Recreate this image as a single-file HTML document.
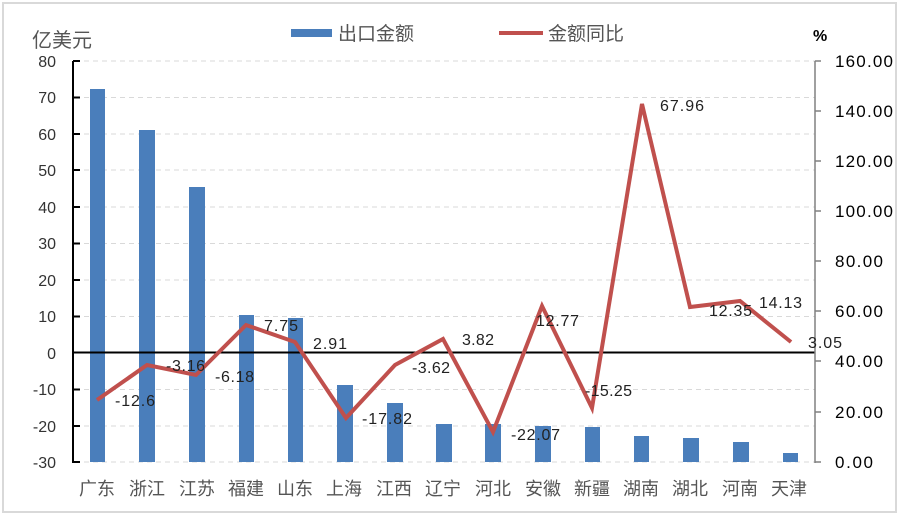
<!DOCTYPE html>
<html><head><meta charset="utf-8"><style>
body{margin:0;background:#fff}
svg{display:block}
text{font-family:"Liberation Sans","Noto Sans CJK SC",sans-serif}
</style></head><body>
<svg width="900" height="516" viewBox="0 0 900 516" xmlns="http://www.w3.org/2000/svg">
<rect x="3" y="3" width="893" height="509" fill="#fff" stroke="#d9d9d9" stroke-width="2"/>
<g stroke="#d9d9d9" stroke-width="1" stroke-dasharray="5,4">
<line x1="75" x2="815" y1="61" y2="61"/><line x1="75" x2="815" y1="97.5" y2="97.5"/>
<line x1="75" x2="815" y1="134" y2="134"/><line x1="75" x2="815" y1="170" y2="170"/>
<line x1="75" x2="815" y1="207" y2="207"/><line x1="75" x2="815" y1="243.5" y2="243.5"/>
<line x1="75" x2="815" y1="280" y2="280"/><line x1="75" x2="815" y1="316.5" y2="316.5"/>
<line x1="75" x2="815" y1="389.5" y2="389.5"/><line x1="75" x2="815" y1="426" y2="426"/>
<line x1="75" x2="815" y1="462" y2="462"/>
</g>
<g fill="#4a7ebb">
<rect x="90" y="89" width="15" height="373"/><rect x="139" y="130" width="16" height="332"/>
<rect x="189" y="187" width="16" height="275"/><rect x="239" y="315" width="15" height="147"/>
<rect x="288" y="318" width="15" height="144"/><rect x="337" y="385" width="16" height="77"/>
<rect x="387" y="403" width="16" height="59"/><rect x="436" y="424" width="16" height="38"/>
<rect x="485" y="424" width="16" height="38"/><rect x="535" y="426" width="16" height="36"/>
<rect x="585" y="427" width="15" height="35"/><rect x="634" y="436" width="15" height="26"/>
<rect x="683" y="438" width="16" height="24"/><rect x="733" y="442" width="16" height="20"/>
<rect x="783" y="453" width="15" height="9"/>
</g>
<line x1="73" x2="815" y1="352.5" y2="352.5" stroke="#000" stroke-width="2"/>
<g stroke="#000" stroke-width="2"><line x1="73" y1="61" x2="73" y2="463"/>
<line x1="73" x2="80" y1="61" y2="61"/><line x1="73" x2="80" y1="97.5" y2="97.5"/><line x1="73" x2="80" y1="134" y2="134"/><line x1="73" x2="80" y1="170" y2="170"/><line x1="73" x2="80" y1="207" y2="207"/><line x1="73" x2="80" y1="243.5" y2="243.5"/><line x1="73" x2="80" y1="280" y2="280"/><line x1="73" x2="80" y1="316.5" y2="316.5"/><line x1="73" x2="80" y1="389.5" y2="389.5"/><line x1="73" x2="80" y1="426" y2="426"/><line x1="73" x2="80" y1="462" y2="462"/></g>
<g stroke="#808080" stroke-width="1.5"><line x1="815" y1="61" x2="815" y2="463"/>
<line x1="815" x2="821" y1="61" y2="61"/><line x1="815" x2="821" y1="111" y2="111"/><line x1="815" x2="821" y1="161" y2="161"/><line x1="815" x2="821" y1="211" y2="211"/><line x1="815" x2="821" y1="261" y2="261"/><line x1="815" x2="821" y1="311" y2="311"/><line x1="815" x2="821" y1="361" y2="361"/><line x1="815" x2="821" y1="412" y2="412"/><line x1="815" x2="821" y1="462" y2="462"/></g>
<polyline fill="none" stroke="#c0504d" stroke-width="4" stroke-linejoin="miter" points="97,400 147,365 196,375 246,325 295,342 346,418 395,365 443,339 493,432 542,306 592,408 642,104 690,307 740,301 791,342"/>
<g font-size="16" fill="#333" text-anchor="end">
<text x="56" y="67">80</text><text x="56" y="103">70</text><text x="56" y="140">60</text><text x="56" y="176">50</text><text x="56" y="213">40</text><text x="56" y="249">30</text><text x="56" y="286">20</text><text x="56" y="322">10</text><text x="56" y="359">0</text><text x="56" y="395">-10</text><text x="56" y="432">-20</text><text x="56" y="468">-30</text>
</g>
<g font-size="17" fill="#000" textLength="58">
<text x="835" y="67" textLength="58">160.00</text><text x="835" y="117" textLength="58">140.00</text><text x="835" y="167" textLength="58">120.00</text><text x="835" y="217" textLength="58">100.00</text><text x="835" y="267" textLength="48">80.00</text><text x="835" y="317" textLength="48">60.00</text><text x="835" y="367" textLength="48">40.00</text><text x="835" y="418" textLength="48">20.00</text><text x="835" y="468" textLength="38">0.00</text>
</g>
<g font-size="16" fill="#222">
<text x="115" y="406" textLength="40">-12.6</text><text x="166" y="371" textLength="39">-3.16</text><text x="215" y="382" textLength="39">-6.18</text><text x="264" y="331" textLength="34">7.75</text><text x="313" y="349" textLength="34">2.91</text><text x="362" y="424" textLength="50">-17.82</text><text x="412" y="373" textLength="38">-3.62</text><text x="462" y="345" textLength="32">3.82</text><text x="511" y="440" textLength="49">-22.07</text><text x="536" y="326" textLength="43">12.77</text><text x="585" y="396" textLength="47">-15.25</text><text x="660" y="111" textLength="44">67.96</text><text x="709" y="316" textLength="43">12.35</text><text x="759" y="308" textLength="43">14.13</text><text x="808" y="348" textLength="34">3.05</text>
</g>
<g font-size="18" fill="#555" text-anchor="middle">
<text x="97" y="495">广东</text><text x="147" y="495">浙江</text><text x="197" y="495">江苏</text><text x="246" y="495">福建</text><text x="295" y="495">山东</text><text x="344" y="495">上海</text><text x="394" y="495">江西</text><text x="443" y="495">辽宁</text><text x="493" y="495">河北</text><text x="543" y="495">安徽</text><text x="592" y="495">新疆</text><text x="641" y="495">湖南</text><text x="690" y="495">湖北</text><text x="740" y="495">河南</text><text x="789" y="495">天津</text>
</g>
<text x="32" y="47" font-size="20" fill="#555">亿美元</text>
<rect x="291" y="29" width="41" height="8" fill="#4a7ebb"/>
<text x="338" y="40" font-size="19" fill="#555">出口金额</text>
<line x1="499" x2="543" y1="33" y2="33" stroke="#c0504d" stroke-width="4"/>
<text x="548" y="40" font-size="19" fill="#555">金额同比</text>
<text x="813" y="41" font-size="16" font-weight="bold" fill="#000">%</text>
</svg>
</body></html>
